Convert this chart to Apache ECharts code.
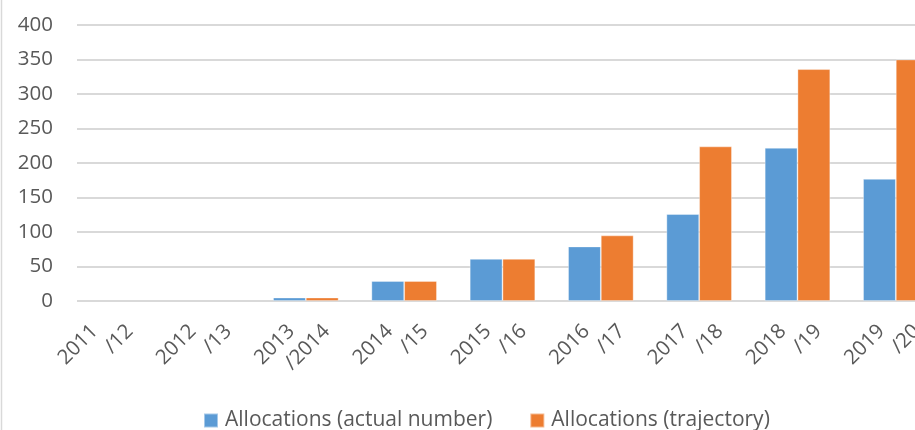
<!DOCTYPE html>
<html>
<head>
<meta charset="utf-8">
<script src="https://cdn.jsdelivr.net/npm/echarts@6/dist/echarts.min.js"></script>
<style>
  html, body { margin: 0; padding: 0; background: #fff; }
  #chart { width: 915px; height: 430px; }
</style>
</head>
<body>
<div id="chart"></div>
<script>
// Financial years on the category axis (drawn as two lines)
const yearStarts = ['2011', '2012', '2013', '2014', '2015', '2016', '2017', '2018', '2019'];
const yearEnds = ['/12', '/13', '/2014', '/15', '/16', '/17', '/18', '/19', '/20'];

// Allocations per year
const actualNumber = [null, null, 5, 29, 61, 79, 126, 222, 177];
const trajectory = [null, null, 5, 29, 61, 95, 224, 336, 350];

// Value axis ticks
const yMin = 0;
const yMax = 400;
const yStep = 50;

const seriesNames = ['Allocations (actual number)', 'Allocations (trajectory)'];

const FONT = '"Open Sans", sans-serif';
const TEXT = '#595959';
const GRID = '#d9d9d9';
const AXIS_FS = 20.5;

const categories = yearStarts.map((s, i) => s + '\n' + yearEnds[i]);

const chart = echarts.init(document.getElementById('chart'));
chart.setOption({
  animation: false,
  textStyle: { fontFamily: FONT },
  color: ['#5B9BD5', '#ED7D31'],
  graphic: [{
    type: 'line',
    shape: { x1: 1.5, y1: 0, x2: 1.5, y2: 430 },
    style: { stroke: GRID, lineWidth: 1.5 }
  }],
  legend: {
    left: 198,
    top: 405,
    itemWidth: 14,
    itemHeight: 14,
    itemGap: 37,
    icon: 'rect',
    data: seriesNames,
    textStyle: { fontFamily: FONT, fontSize: 21, color: TEXT, padding: [0, 0, 0, 2] }
  },
  grid: [
    // value-axis frame: gridlines and tick labels
    { left: 77, right: 0, top: 25, height: 276, outerBoundsMode: 'none', containLabel: false },
    // category frame holding the bars
    { left: 60, width: 885, top: 25, height: 276, outerBoundsMode: 'none', containLabel: false }
  ],
  xAxis: [
    { gridIndex: 0, type: 'value', show: false, min: 0, max: 1 },
    {
      gridIndex: 1,
      type: 'category',
      data: categories,
      axisLine: { show: false },
      axisTick: { show: false },
      axisLabel: {
        interval: 0,
        rotate: 45,
        margin: -5,
        verticalAlign: 'top',
        align: 'right',
        hideOverlap: false,
        fontFamily: FONT,
        fontSize: AXIS_FS,
        lineHeight: 25,
        color: TEXT,
        formatter: (v) => {
          const parts = v.split('\n');
          return '{a|' + parts[0] + '}\n{b|' + parts[1] + '}';
        },
        rich: {
          a: { fontFamily: FONT, fontSize: AXIS_FS, color: TEXT, lineHeight: 25, padding: [0, 33, 0, 0] },
          b: { fontFamily: FONT, fontSize: AXIS_FS, color: TEXT, lineHeight: 25, padding: [0, 8, 0, 0] }
        }
      }
    }
  ],
  yAxis: [
    {
      gridIndex: 0,
      type: 'value',
      min: yMin,
      max: yMax,
      interval: yStep,
      axisLine: { show: false },
      axisTick: { show: false },
      axisLabel: { margin: 24, fontFamily: FONT, fontSize: AXIS_FS, color: TEXT },
      splitLine: { lineStyle: { color: GRID, width: 2 } }
    },
    {
      gridIndex: 1,
      type: 'value',
      min: yMin,
      max: yMax,
      interval: yStep,
      show: false,
      splitLine: { show: false }
    }
  ],
  series: [
    {
      name: seriesNames[0],
      type: 'bar',
      xAxisIndex: 1,
      yAxisIndex: 1,
      data: actualNumber,
      barGap: 0,
      barCategoryGap: '33.4%',
      itemStyle: { borderColor: 'rgba(255,255,255,0.45)', borderWidth: 0.8 }
    },
    {
      name: seriesNames[1],
      type: 'bar',
      xAxisIndex: 1,
      yAxisIndex: 1,
      data: trajectory,
      barGap: 0,
      barCategoryGap: '33.4%',
      itemStyle: { borderColor: 'rgba(255,255,255,0.45)', borderWidth: 0.8 }
    }
  ]
});
</script>
</body>
</html>
